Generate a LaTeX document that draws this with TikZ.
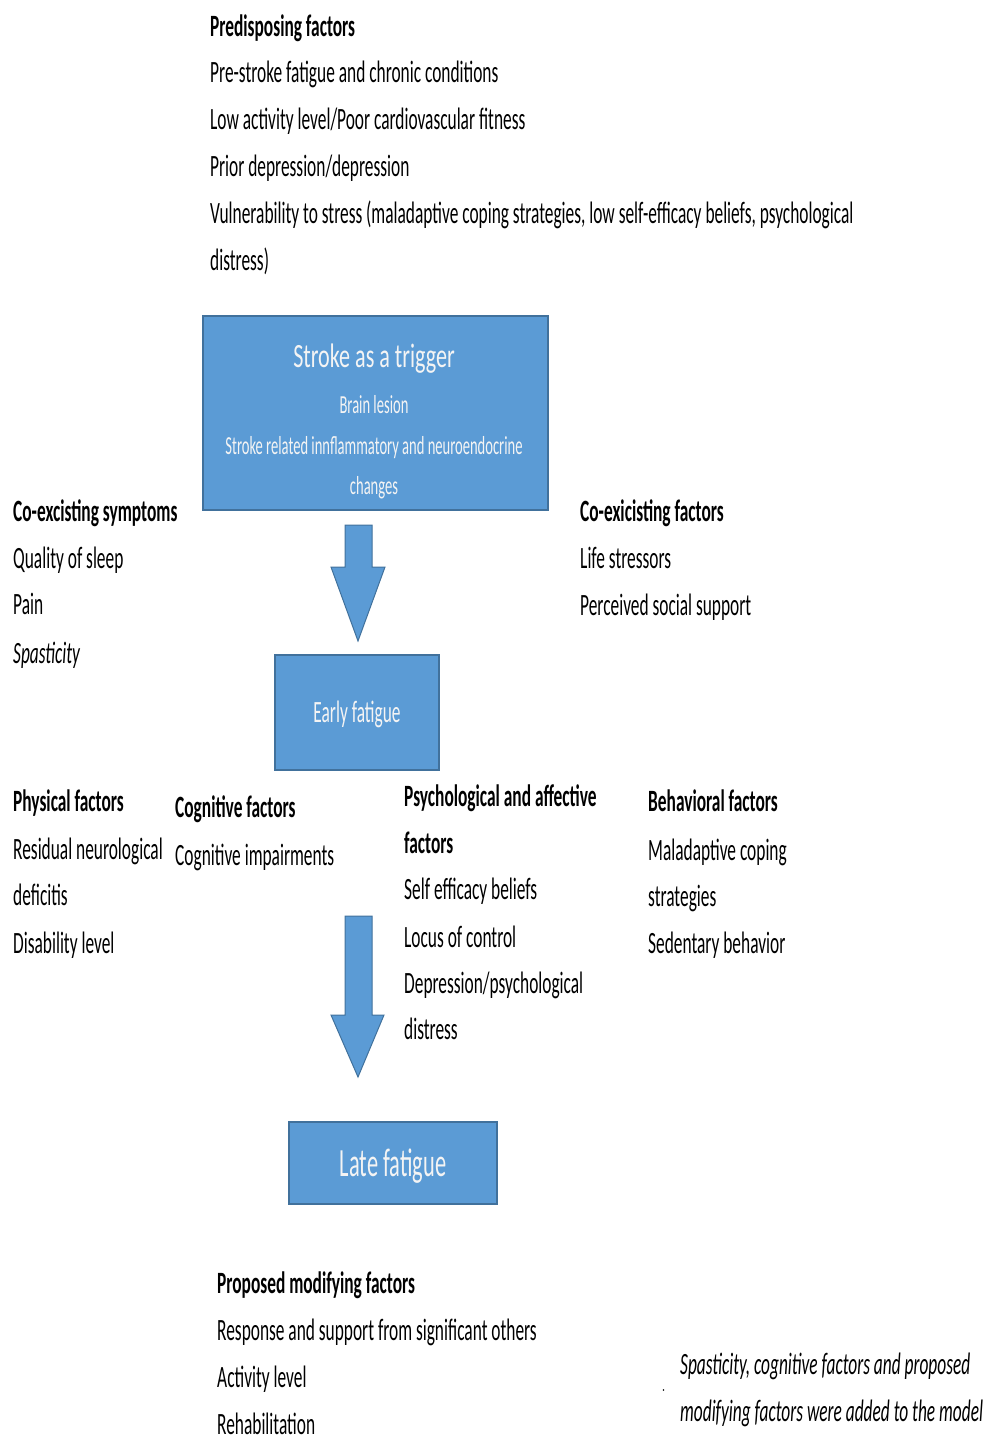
\documentclass[tikz,border=0pt]{standalone}
\usepackage{fontspec}
\setmainfont{Carlito}[FakeStretch=0.56]
\newfontfamily\titlefont{Carlito}[FakeStretch=0.65]
\definecolor{boxblue}{HTML}{5B9BD5}
\definecolor{boxline}{HTML}{41719C}
\definecolor{boxtext}{HTML}{F4F4F4}
\begin{document}
\begin{tikzpicture}[x=1pt,y=-1pt]
\tikzset{item/.style={anchor=west,inner sep=0pt,text height=20pt,text depth=0pt,font=\fontsize{31}{36}\selectfont},
  head/.style={item,font=\fontsize{31}{36}\selectfont\bfseries},
  bluebox/.style={draw=boxline,line width=1.2pt,fill=boxblue,inner sep=0pt},
  boxtxt/.style={inner sep=0pt,text=boxtext,text depth=0pt},
  smalltxt/.style={boxtxt,text height=16pt,font=\fontsize{26}{30}\selectfont},
  bigarrow/.style={draw=boxline,line width=1pt,fill=boxblue,line join=miter}}
\useasboundingbox (0,0) rectangle (991,1439);

%facteurs predisposants
\node[head] (pre) at (210,27) {Predisposing factors};
\node[item] (pre1) at (210,73) {Pre-stroke fatigue and chronic conditions};
\node[item] (pre2) at (210,120) {Low activity level/Poor cardiovascular fitness};
\node[item] (pre3) at (210,167) {Prior depression/depression};
\node[item] (pre4) at (210,214) {Vulnerability to stress (maladaptive coping strategies, low self-efficacy beliefs, psychological};
\node[item] (pre5) at (210,260) {distress)};

%declencheur
\node[bluebox,minimum width=345pt,minimum height=194pt] (stroke) at (375.5,413) {};
\node[boxtxt,text height=22pt,font=\titlefont\fontsize{34}{40}\selectfont] (trig) at (374,356) {Stroke as a trigger};
\node[smalltxt] (trig1) at (374,405) {Brain lesion};
\node[smalltxt] (trig2) at (374,446) {Stroke\ related innflammatory and neuroendocrine};
\node[smalltxt] (trig3) at (374,486) {changes};

%symptomes et facteurs coexistants
\node[head] (sym) at (13,511) {Co-excisting symptoms};
\node[item] (sym1) at (13,558) {Quality of sleep};
\node[item] (sym2) at (13,604) {Pain};
\node[item] (sym3) at (13,653) {\itshape Spasticity};
\node[head] (fac) at (580,511) {Co-exicisting factors};
\node[item] (fac1) at (580,558) {Life stressors};
\node[item] (fac2) at (580,605) {Perceived social support};

%fleche 1
\draw[bigarrow] (345,525)--(372,525)--(372,567)--(385,567)--(358,641)--(331,567)--(345,567)--cycle;

\node[bluebox,minimum width=164pt,minimum height=115pt] (early) at (357,712.5) {};
\node[boxtxt,text height=20pt,font=\fontsize{31}{36}\selectfont] at (early.center) {Early fatigue};

%facteurs
\node[head] (phy) at (13,801) {Physical factors};
\node[item] (phy1) at (13,849) {Residual neurological};
\node[item] (phy2) at (13,895) {deficitis};
\node[item] (phy3) at (13,943) {Disability level};
\node[head] (cog) at (175,807) {Cognitive factors};
\node[item] (cog1) at (175,855) {Cognitive impairments};
\node[head] (psy) at (404,796) {Psychological and affective};
\node[head] (psy0) at (404,843) {factors};
\node[item] (psy1) at (404,889) {Self efficacy beliefs};
\node[item] (psy2) at (404,937) {Locus of control};
\node[item] (psy3) at (404,983) {Depression/psychological};
\node[item] (psy4) at (404,1029) {distress};
\node[head] (beh) at (648,801) {Behavioral factors};
\node[item] (beh1) at (648,850) {Maladaptive coping};
\node[item] (beh2) at (648,896) {strategies};
\node[item] (beh3) at (648,943) {Sedentary behavior};

%fleche 2
\draw[bigarrow] (345,916)--(372,916)--(372,1015)--(384,1015)--(358,1077)--(331,1015)--(345,1015)--cycle;

\node[bluebox,minimum width=208pt,minimum height=82pt] (late) at (393,1163) {};
\node[boxtxt,text height=26pt,font=\fontsize{40}{44}\selectfont] at (late.center) {Late fatigue};

%facteurs modifiants
\node[head] (mod) at (217,1283) {Proposed modifying factors};
\node[item] (mod1) at (217,1330) {Response and support from significant others};
\node[item] (mod2) at (217,1377) {Activity level};
\node[item] (mod3) at (217,1424) {Rehabilitation};

\node[item,font=\fontsize{31}{36}\selectfont\itshape] (note1) at (680,1364) {Spasticity, cognitive factors and proposed};
\node[item,font=\fontsize{31}{36}\selectfont\itshape] (note2) at (680,1411) {modifying factors were added to the model};
\fill (663.5,1390) circle (0.8pt);
\end{tikzpicture}
\end{document}
